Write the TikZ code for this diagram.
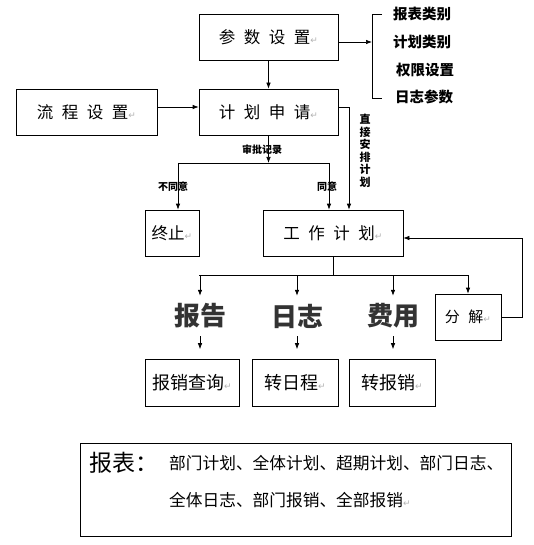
\documentclass[tikz,border=0pt]{standalone}
\usepackage{fontspec}
\setmainfont{Noto Sans CJK SC}
\newfontfamily\dejavu{DejaVu Sans}
\usetikzlibrary{arrows.meta}

\newcommand\gp{\hspace{8.5pt}}
\newcommand\pmark{\textcolor{gray!60}{\dejavu\fontsize{9pt}{9pt}\selectfont ↵}}
\newcommand\fs[1]{\fontsize{#1}{#1}\selectfont}

\tikzset{
  box/.style={draw, line width=0.7pt, minimum height=46pt, inner sep=0pt, font=\fs{16.5pt}},
  tag/.style={font=\bfseries\fs{10pt}, inner sep=0pt},
  side/.style={font=\bfseries\fs{14.5pt}, inner sep=0pt},
  big/.style={font=\bfseries\fs{26pt}, text=black!80, minimum height=40pt, inner sep=0pt},
  arr/.style={-{Latex[length=6pt,width=4.5pt]}, line width=0.7pt},
  link/.style={line width=0.7pt},
}

\begin{document}
\begin{tikzpicture}[x=1pt,y=-1pt]
\useasboundingbox (0,0) rectangle (534,545);

%boxes
\node[box, minimum width=139pt] (param) at (268.5,37) {参\gp{}数\gp{}设\gp{}置\pmark};
\node[box, minimum width=139pt] (apply) at (268.5,112) {计\gp{}划\gp{}申\gp{}请\pmark};
\node[box, minimum width=141pt] (flow) at (86.5,112) {流\gp{}程\gp{}设\gp{}置\pmark};
\node[box, minimum width=54pt] (stop) at (172,233) {终止\pmark};
\node[box, minimum width=140pt] (work) at (333,233) {工\gp{}作\gp{}计\gp{}划\pmark};
\node[box, minimum width=66pt, font=\fs{15pt}] (split) at (468,317) {分\gp{}解\pmark};
\node[box, minimum width=94pt, minimum height=47pt, font=\fs{18pt}] (qry) at (192,382.5) {报销查询\pmark};
\node[box, minimum width=86pt, minimum height=47pt, font=\fs{18pt}] (zrc) at (295,382.5) {转日程\pmark};
\node[box, minimum width=86pt, minimum height=47pt, font=\fs{18pt}] (zbx) at (392,382.5) {转报销\pmark};

%side list
\node[side] (s1) at (422,14) {报表类别};
\node[side] (s2) at (422,42) {计划类别};
\node[side] (s3) at (425,70) {权限设置};
\node[side] (s4) at (424,97) {日志参数};
\draw[link] (382,14) -- (372,14) -- (372,98) -- (382,98);
\coordinate (brk) at (372,42);
\draw[arr] (param.east |- brk) -- (brk);

%big words
\node[big] (rep) at (200,316) {报告};
\node[big] (log) at (297,316) {日志};
\node[big] (fee) at (393,316) {费用};

%labels
\node[tag] (rec) at (262,150) {审批记录};
\node[tag] (no) at (173,187) {不同意};
\node[tag] (yes) at (327,187) {同意};
\node[tag, font={\bfseries\fontsize{11pt}{12.5pt}\selectfont}, align=center] (direct) at (365,151) {直\\接\\安\\排\\计\\划};

%connectors
\draw[arr] (param.south) -- (apply.north);
\draw[arr] ([yshift=5pt]flow.east) -- ([yshift=5pt]apply.west);
\draw[arr] ([yshift=5pt]apply.east) -| ([xshift=16pt]work.north);

\coordinate (fork) at (268.5,163);
\coordinate (nl) at (178,163);
\coordinate (nr) at (329,163);
\draw[arr] (apply.south) -- (fork);
\draw[link] (nl) -- (nr);
\draw[arr] (nl) -- (nl |- stop.north);
\draw[arr] (nr) -- (nr |- work.north);

\coordinate (dl) at (199,275);
\coordinate (dr) at (468,275);
\draw[link] (work.south) -- (work.south |- dl);
\draw[link] (dl) -- (dr);
\foreach \n in {rep,log,fee,split}
  \draw[arr] (\n.north |- dl) -- (\n.north);
\foreach \n in {rep,log,fee}
  \draw[arr] (\n.south) -- ++(0,13);

\coordinate (fb) at (522,238);
\draw[arr] (split.east) -| (fb) -- (fb -| work.east);

%report sheet
\node[box, minimum width=431pt, minimum height=93pt] (sheet) at (295.5,489.5) {};
\node[inner sep=0pt, font=\fs{23pt}] (sheethd) at (124,463) {报表：};
\node[inner sep=0pt, anchor=west, font=\fs{16.7pt}] (sheet1) at (169,463) {部门计划、全体计划、超期计划、部门日志、};
\node[inner sep=0pt, anchor=west, font=\fs{16.7pt}] (sheet2) at (169,500) {全体日志、部门报销、全部报销\pmark};

\end{tikzpicture}
\end{document}
